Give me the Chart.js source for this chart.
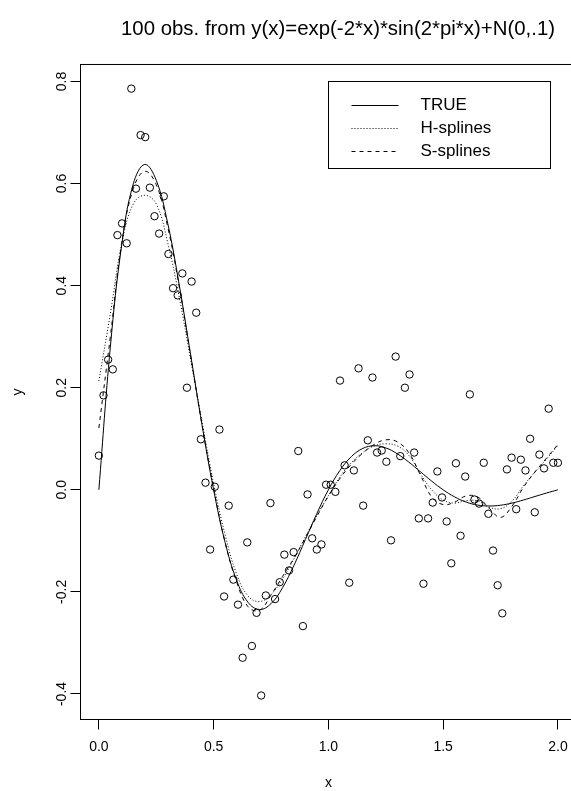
<!DOCTYPE html>
<html>
<head>
<meta charset="utf-8">
<script src="https://cdn.jsdelivr.net/npm/chart.js@4.4.1/dist/chart.umd.min.js"></script>
<style>
  html, body { margin: 0; padding: 0; background: #fff; overflow: hidden; }
  canvas { display: block; }
</style>
</head>
<body>
<canvas id="plot" width="700" height="791"></canvas>
<script>
// ---- data ----
const titleText = '100 obs. from y(x)=exp(-2*x)*sin(2*pi*x)+N(0,.1)';

// 100 observations on an even grid over [0, 2]
const obsX = [
  0.0000, 0.0202, 0.0404, 0.0606, 0.0808, 0.1010, 0.1212, 0.1414, 0.1616, 0.1818,
  0.2020, 0.2222, 0.2424, 0.2626, 0.2828, 0.3030, 0.3232, 0.3434, 0.3636, 0.3838,
  0.4040, 0.4242, 0.4444, 0.4646, 0.4848, 0.5051, 0.5253, 0.5455, 0.5657, 0.5859,
  0.6061, 0.6263, 0.6465, 0.6667, 0.6869, 0.7071, 0.7273, 0.7475, 0.7677, 0.7879,
  0.8081, 0.8283, 0.8485, 0.8687, 0.8889, 0.9091, 0.9293, 0.9495, 0.9697, 0.9899,
  1.0101, 1.0303, 1.0505, 1.0707, 1.0909, 1.1111, 1.1313, 1.1515, 1.1717, 1.1919,
  1.2121, 1.2323, 1.2525, 1.2727, 1.2929, 1.3131, 1.3333, 1.3535, 1.3737, 1.3939,
  1.4141, 1.4343, 1.4545, 1.4747, 1.4949, 1.5152, 1.5354, 1.5556, 1.5758, 1.5960,
  1.6162, 1.6364, 1.6566, 1.6768, 1.6970, 1.7172, 1.7374, 1.7576, 1.7778, 1.7980,
  1.8182, 1.8384, 1.8586, 1.8788, 1.8990, 1.9192, 1.9394, 1.9596, 1.9798, 2.0000
];
const obsY = [
  0.067, 0.185, 0.255, 0.236, 0.499, 0.522, 0.483, 0.786, 0.590, 0.695,
  0.691, 0.592, 0.536, 0.502, 0.575, 0.462, 0.395, 0.381, 0.424, 0.200,
  0.408, 0.347, 0.099, 0.014, -0.117, 0.006, 0.118, -0.209, -0.031, -0.176,
  -0.225, -0.329, -0.103, -0.306, -0.241, -0.403, -0.207, -0.026, -0.214, -0.181,
  -0.127, -0.158, -0.122, 0.076, -0.267, -0.009, -0.095, -0.117, -0.107, 0.010,
  0.010, -0.004, 0.214, 0.048, -0.182, 0.038, 0.238, -0.031, 0.097, 0.220,
  0.073, 0.077, 0.055, -0.099, 0.261, 0.066, 0.200, 0.226, 0.073, -0.056,
  -0.184, -0.056, -0.025, 0.036, -0.015, -0.062, -0.144, 0.052, -0.090, 0.026,
  0.187, -0.019, -0.027, 0.053, -0.047, -0.119, -0.187, -0.242, 0.040, 0.063,
  -0.038, 0.059, 0.038, 0.100, -0.044, 0.069, 0.042, 0.159, 0.053, 0.053
];

// abscissae where the three curves are tabulated
const curveX = [
  0.00, 0.05, 0.10, 0.15, 0.20, 0.25, 0.30, 0.35, 0.40, 0.45,
  0.50, 0.55, 0.60, 0.65, 0.70, 0.75, 0.80, 0.85, 0.90, 0.95,
  1.00, 1.05, 1.10, 1.15, 1.20, 1.25, 1.30, 1.35, 1.40, 1.45,
  1.50, 1.55, 1.60, 1.65, 1.70, 1.75, 1.80, 1.85, 1.90, 1.95, 2.00
];
const trueY = [
  0.0000, 0.2796, 0.4812, 0.5993, 0.6375, 0.6065, 0.5220, 0.4017, 0.2641, 0.1256,
  0.0000, -0.1029, -0.1770, -0.2205, -0.2345, -0.2231, -0.1920, -0.1478, -0.0972, -0.0462,
  0.0000, 0.0378, 0.0651, 0.0811, 0.0863, 0.0821, 0.0706, 0.0544, 0.0357, 0.0170,
  0.0000, -0.0139, -0.0240, -0.0299, -0.0317, -0.0302, -0.0260, -0.0200, -0.0131, -0.0063, 0.0000
];
const hSplineY = [
  0.213, 0.345, 0.483, 0.560, 0.577, 0.560, 0.484, 0.378, 0.255, 0.132,
  0.012, -0.088, -0.165, -0.208, -0.219, -0.205, -0.175, -0.135, -0.092, -0.050,
  -0.012, 0.025, 0.053, 0.073, 0.086, 0.090, 0.086, 0.068, 0.032, 0.000,
  -0.020, -0.026, -0.021, -0.022, -0.034, -0.037, -0.022, 0.008, 0.035, 0.060, 0.087
];
const sSplineY = [
  0.121, 0.300, 0.485, 0.590, 0.624, 0.598, 0.515, 0.398, 0.262, 0.126,
  0.003, -0.103, -0.180, -0.229, -0.236, -0.206, -0.170, -0.134, -0.094, -0.052,
  -0.012, 0.022, 0.050, 0.072, 0.089, 0.098, 0.094, 0.073, 0.030, -0.014,
  -0.029, -0.024, -0.012, -0.014, -0.036, -0.054, -0.032, 0.005, 0.035, 0.062, 0.089
];

const xTicks = [0.0, 0.5, 1.0, 1.5, 2.0];
const yTicks = [-0.4, -0.2, 0.0, 0.2, 0.4, 0.6, 0.8];
const legendLabels = ['TRUE', 'H-splines', 'S-splines'];

// ---- styling ----
const FONT = '"Liberation Sans", Arial, Helvetica, sans-serif';
Chart.defaults.font.family = FONT;
Chart.defaults.color = '#000';

const pairs = (xs, ys) => xs.map((x, i) => ({ x, y: ys[i] }));
const dashes = [[], [1, 2], [4, 4]];

const curveSets = [trueY, hSplineY, sSplineY].map((ys, i) => ({
  label: legendLabels[i],
  data: pairs(curveX, ys),
  showLine: true,
  borderColor: '#000',
  borderWidth: 1,
  borderDash: dashes[i],
  pointRadius: 0,
  tension: 0.4,
  fill: false
}));

// box around the plotting region
const frame = {
  id: 'frame',
  afterDraw(chart) {
    const { ctx, chartArea: a } = chart;
    ctx.save();
    ctx.strokeStyle = '#000';
    ctx.lineWidth = 1;
    ctx.strokeRect(a.left, a.top, a.right - a.left, a.bottom - a.top);
    ctx.restore();
  }
};

// boxed key anchored at (x = 1.0, y = 0.8)
const keyPanel = {
  id: 'keyPanel',
  afterDraw(chart) {
    const { ctx, scales: { x, y } } = chart;
    const left = Math.floor(x.getPixelForValue(1.0)) + 0.5;
    const top = Math.floor(y.getPixelForValue(0.8)) + 0.5;
    const w = 222, h = 87;
    ctx.save();
    ctx.fillStyle = '#fff';
    ctx.fillRect(left, top, w, h);
    ctx.strokeStyle = '#000';
    ctx.lineWidth = 1;
    ctx.setLineDash([]);
    ctx.strokeRect(left, top, w, h);
    ctx.font = '17px ' + FONT;
    ctx.textBaseline = 'middle';
    ctx.fillStyle = '#000';
    curveSets.forEach((ds, i) => {
      const ry = Math.round(top + 23 + i * 23) + 0.5;
      ctx.setLineDash(ds.borderDash);
      ctx.beginPath();
      ctx.moveTo(left + 23, ry);
      ctx.lineTo(left + 70, ry);
      ctx.stroke();
      ctx.setLineDash([]);
      ctx.fillText(ds.label, left + 92, ry);
    });
    ctx.restore();
  }
};

const tickGrid = {
  display: true,
  drawOnChartArea: false,
  drawTicks: true,
  tickLength: 10,
  color: '#000',
  lineWidth: 1
};

new Chart(document.getElementById('plot'), {
  type: 'scatter',
  data: {
    datasets: [
      {
        label: 'obs',
        data: pairs(obsX, obsY),
        showLine: false,
        pointStyle: 'circle',
        pointRadius: 3.7,
        pointBorderWidth: 1,
        pointBorderColor: '#000',
        pointBackgroundColor: 'rgba(0,0,0,0)'
      },
      ...curveSets
    ]
  },
  options: {
    responsive: false,
    animation: false,
    events: [],
    layout: { padding: { left: 0, top: 0, right: 24, bottom: 0 } },
    plugins: {
      legend: { display: false },
      tooltip: { enabled: false },
      title: {
        display: true,
        text: titleText,
        fullSize: true,
        color: '#000',
        font: { family: FONT, size: 20.4, weight: 'normal', lineHeight: 1.2 },
        padding: { top: 16.8, bottom: 23.2 }
      }
    },
    scales: {
      x: {
        type: 'linear',
        min: -0.08,
        max: 2.08,
        afterBuildTicks: s => { s.ticks = xTicks.map(v => ({ value: v })); },
        afterFit: s => { s.height = 71.5; },
        grid: tickGrid,
        border: { display: false },
        ticks: {
          autoSkip: false, minRotation: 0, maxRotation: 0, padding: 9,
          color: '#000', font: { family: FONT, size: 14 },
          callback: v => Number(v).toFixed(1)
        },
        title: {
          display: true, text: 'x', color: '#000',
          font: { family: FONT, size: 14 }, padding: { top: 0, bottom: -1 }
        }
      },
      y: {
        type: 'linear',
        min: -0.45,
        max: 0.8333,
        afterBuildTicks: s => { s.ticks = yTicks.map(v => ({ value: v })); },
        afterFit: s => { s.width = 80.5; },
        grid: tickGrid,
        border: { display: false },
        ticks: {
          autoSkip: false, minRotation: 90, maxRotation: 90, crossAlign: 'center', padding: -3.5,
          color: '#000', font: { family: FONT, size: 14 },
          callback: v => Number(v).toFixed(1)
        },
        title: {
          display: true, text: 'y', color: '#000',
          font: { family: FONT, size: 14 }, padding: { top: 10, bottom: 0 }
        }
      },
      // empty right-hand margin of the figure
      margin: {
        type: 'linear',
        position: 'right',
        min: 0,
        max: 1,
        afterFit: s => { s.width = 99.7; },
        grid: { display: false },
        border: { display: false },
        ticks: { display: false },
        title: { display: false }
      }
    }
  },
  plugins: [frame, keyPanel]
});
</script>
</body>
</html>
